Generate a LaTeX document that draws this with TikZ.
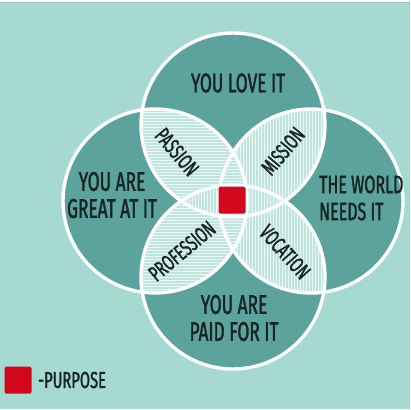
\documentclass[tikz,border=0pt]{standalone}
\usepackage{fontspec}
\setmainfont{Fira Sans}[FakeStretch=0.64, FakeBold=1.4]
\usetikzlibrary{patterns}
\definecolor{bgc}{HTML}{A5D9D1}
\definecolor{darkc}{HTML}{5CA39E}
\definecolor{lightc}{HTML}{C0E5DF}
\definecolor{inkc}{HTML}{162424}
\definecolor{redc}{HTML}{D4081C}
\tikzset{
  lbl/.style={text=inkc, font=\fontsize{27}{28}\selectfont, align=center, inner sep=0pt},
  slbl/.style={text=inkc, font=\fontsize{22}{22}\selectfont, inner sep=0pt},
  ring/.style={draw=white, line width=3.4pt},
  hatchA/.style={pattern=horizontal lines, pattern color=white!70!lightc},
  hatchB/.style={pattern=vertical lines, pattern color=white!70!lightc},
}
\begin{document}
\begin{tikzpicture}[x=1pt,y=-1pt]
\useasboundingbox (0,0) rectangle (410,410);
\fill[white] (0,0) rectangle (410,410);
\fill[bgc] (0,2) rectangle (410,408.5);
\draw[bgc!80!gray, line width=0.8pt] (0,2.4) -- (410,2.4);
% circle centres
\coordinate (T) at (233,125);
\coordinate (B) at (233,277);
\coordinate (L) at (155,201);
\coordinate (R) at (311,201);
\def\rr{92}
% dark circles
\foreach \c in {T,B,L,R} \fill[darkc] (\c) circle[radius=\rr];
% overlaps
\foreach \a/\b/\h in {T/L/hatchA,T/R/hatchB,B/L/hatchA,B/R/hatchB,T/B/hatchB,L/R/hatchA}{
  \begin{scope}
    \clip (\a) circle[radius=\rr];
    \fill[lightc] (\b) circle[radius=\rr];
    \fill[\h] (\b) circle[radius=\rr];
  \end{scope}
}
% outlines
\foreach \c in {T,B,L,R} \draw[ring] (\c) circle[radius=\rr];
% purpose square
\node[fill=redc, minimum size=27pt, inner sep=0pt, rounded corners=1.5pt] (purpose) at (232,200) {};
% labels
\node[lbl] (love) at (238,83) {YOU LOVE IT};
\node[lbl] (great) at (112,195) {YOU ARE\\[-1pt]GREAT AT IT};
\node[lbl, align=left, anchor=west, font=\fontsize{25}{28}\selectfont] (world) at (319,198) {THE WORLD\\[-1pt]NEEDS IT};
\node[lbl] (paid) at (234,318) {YOU ARE\\[-1pt]PAID FOR IT};
\node[slbl, rotate=-50] (passion) at (177,152) {PASSION};
\node[slbl, rotate=50] (mission) at (283,151) {MISSION};
\node[slbl, rotate=40] (profession) at (182,251) {PROFESSION};
\node[slbl, rotate=-48] (vocation) at (285,252) {VOCATION};
% legend
\node[fill=redc, minimum size=27pt, inner sep=0pt, rounded corners=1.5pt] (legsq) at (18,380) {};
\node[text=inkc, font=\fontsize{23}{24}\selectfont, anchor=west, inner sep=0pt] (legtxt) at (38,380) {-PURPOSE};
\end{tikzpicture}
\end{document}
